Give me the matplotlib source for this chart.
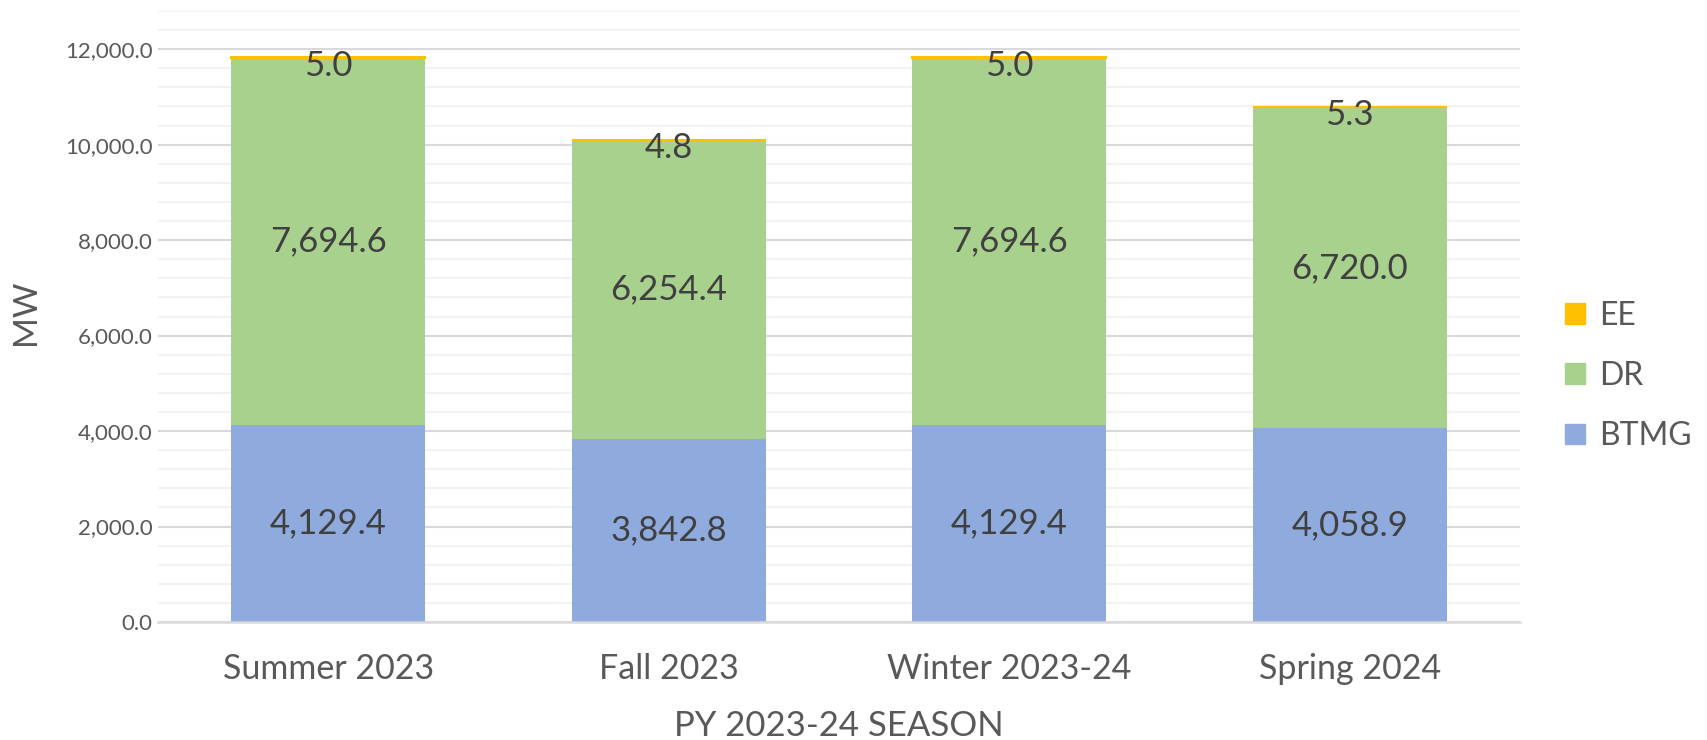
import matplotlib
matplotlib.use("Agg")
import matplotlib.pyplot as plt
import numpy as np
from matplotlib.ticker import MultipleLocator, FuncFormatter
from matplotlib.patches import Patch

categories = ["Summer 2023", "Fall 2023", "Winter 2023-24", "Spring 2024"]
btmg = [4129.4, 3842.8, 4129.4, 4058.9]
dr = [7694.6, 6254.4, 7694.6, 6720.0]
ee = [5.0, 4.8, 5.0, 5.3]

C_BTMG = "#8FAADC"
C_DR = "#A9D18E"
C_EE = "#FFC000"
FONT = "Lato"

W, H = 1708, 740
fig = plt.figure(figsize=(W / 100, H / 100), dpi=100)
ax = fig.add_axes([158 / W, 1 - 622 / H, (1520 - 158) / W, (622 - 11) / H])

x = np.arange(len(categories))
bw = 0.57
btmg_a = np.array(btmg)
dr_a = np.array(dr)
ee_a = np.array(ee)

ax.bar(x, btmg_a, bw, color=C_BTMG, zorder=3)
ax.bar(x, dr_a, bw, bottom=btmg_a, color=C_DR, zorder=3)
ax.bar(x, ee_a, bw, bottom=btmg_a + dr_a, color=C_EE, zorder=3,
       edgecolor=C_EE, linewidth=1.5)

lab_kw = dict(ha="center", va="center", fontsize=25, color="#404040",
              family=FONT, zorder=5)
for i in range(len(categories)):
    ax.text(x[i], btmg_a[i] / 2, f"{btmg_a[i]:,.1f}", **lab_kw)
    ax.text(x[i], btmg_a[i] + dr_a[i] / 2, f"{dr_a[i]:,.1f}", **lab_kw)
    ax.text(x[i], btmg_a[i] + dr_a[i] + ee_a[i] / 2 - 170, f"{ee_a[i]:,.1f}", **lab_kw)

ax.set_xlim(-0.5, len(categories) - 0.5)
ax.set_ylim(0, 12800)
ax.yaxis.set_major_locator(MultipleLocator(2000))
ax.yaxis.set_minor_locator(MultipleLocator(400))
ax.yaxis.set_major_formatter(FuncFormatter(lambda v, p: f"{v:,.1f}"))
ax.grid(axis="y", which="major", color="#D9D9D9", linewidth=1.5, zorder=0)
ax.grid(axis="y", which="minor", color="#F2F2F2", linewidth=1.5, zorder=0)
ax.set_axisbelow(True)

for s in ["top", "right", "left"]:
    ax.spines[s].set_visible(False)
ax.spines["bottom"].set_color("#D9D9D9")
ax.spines["bottom"].set_linewidth(1.8)
ax.spines["bottom"].set_zorder(4)

ax.set_xticks(x)
ax.set_xticklabels(categories, fontsize=24.5, color="#595959", family=FONT)
ax.tick_params(axis="x", length=0, pad=22)
ax.tick_params(axis="y", which="both", length=0, pad=4, labelsize=16,
               labelcolor="#595959")
for t in ax.get_yticklabels():
    t.set_family(FONT)

fig.text(839 / W, 1 - 726 / H, "PY 2023-24 SEASON", ha="center", va="center",
         fontsize=25, color="#595959", family=FONT)
fig.text(26 / W, 1 - 312 / H, "MW", ha="center", va="center", rotation=90,
         fontsize=24, color="#595959", family=FONT)

handles = [Patch(color=C_EE), Patch(color=C_DR), Patch(color=C_BTMG)]
fig.legend(handles, ["EE", "DR", "BTMG"], loc="center left",
           bbox_to_anchor=(1565 / W, 1 - 376 / H), frameon=False,
           prop={"family": FONT, "size": 23},
           handlelength=0.62, handleheight=0.62, handletextpad=0.45,
           labelspacing=0.95, borderpad=0, borderaxespad=0,
           labelcolor="#595959")

fig.savefig("out.png", dpi=100)
